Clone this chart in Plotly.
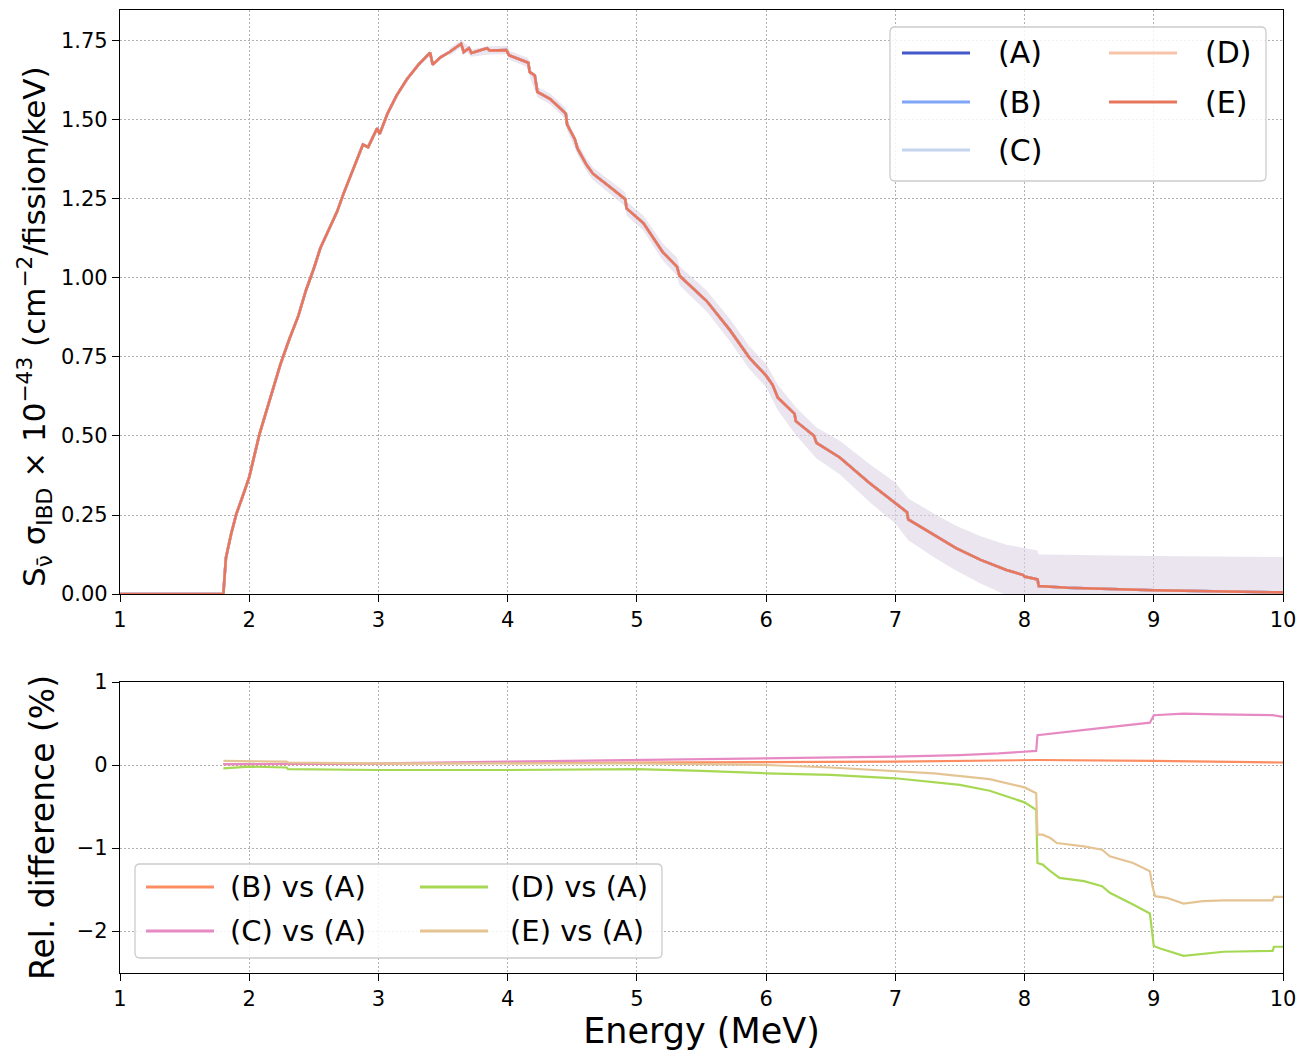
import plotly.graph_objects as go
from plotly.subplots import make_subplots

# ---- data ----
energy = [1.0, 1.80, 1.81, 1.82, 1.86, 1.90, 1.95, 2.00, 2.08, 2.16, 2.24, 2.31, 2.38, 2.44,
          2.50, 2.55, 2.62, 2.68, 2.73, 2.80, 2.88, 2.92, 2.99, 3.01, 3.07, 3.14, 3.22, 3.31,
          3.40, 3.42, 3.48, 3.55, 3.64, 3.66, 3.70, 3.72, 3.78, 3.84, 3.86, 3.99, 4.01, 4.16,
          4.17, 4.21, 4.23, 4.33, 4.45, 4.46, 4.52, 4.54, 4.61, 4.66, 4.77, 4.91, 4.92, 5.05,
          5.20, 5.31, 5.33, 5.54, 5.72, 5.87, 6.00, 6.05, 6.09, 6.22, 6.23, 6.37, 6.39, 6.57,
          6.80, 7.00, 7.09, 7.10, 7.18, 7.32, 7.47, 7.66, 7.86, 7.99, 8.00, 8.10, 8.11, 8.33,
          8.80, 9.00, 10.0]
spectrum = [0, 0, 0.06, 0.115, 0.19, 0.253, 0.31, 0.37, 0.507, 0.62, 0.725, 0.806, 0.88, 0.962,
            1.03, 1.094, 1.157, 1.21, 1.267, 1.34, 1.422, 1.414, 1.474, 1.456, 1.52, 1.577, 1.629,
            1.675, 1.713, 1.675, 1.698, 1.715, 1.741, 1.715, 1.727, 1.712, 1.72, 1.727, 1.72,
            1.721, 1.705, 1.681, 1.652, 1.641, 1.589, 1.566, 1.52, 1.485, 1.439, 1.41, 1.358,
            1.33, 1.295, 1.249, 1.22, 1.174, 1.082, 1.036, 1.007, 0.927, 0.835, 0.748, 0.691,
            0.662, 0.622, 0.57, 0.547, 0.501, 0.478, 0.432, 0.351, 0.288, 0.259, 0.236, 0.216,
            0.18, 0.145, 0.108, 0.076, 0.06, 0.055, 0.046, 0.025, 0.02, 0.015, 0.012, 0.005]

# uncertainty band of model (C)
band_energy = [3.55, 3.64, 3.72, 3.86, 4.0, 4.01, 4.16, 4.17, 4.23, 4.33, 4.45, 4.46, 4.54, 4.61,
               4.66, 4.77, 4.91, 4.92, 5.05, 5.20, 5.31, 5.33, 5.54, 5.72, 5.87, 6.00, 6.09,
               6.23, 6.39, 6.57, 6.80, 7.00, 7.10, 7.18, 7.32, 7.47, 7.66, 7.86, 8.0, 8.10,
               8.11, 9.0, 10.0]
band_hi = [1.727, 1.753, 1.724, 1.733, 1.734, 1.719, 1.696, 1.667, 1.605, 1.583, 1.538, 1.503,
           1.429, 1.378, 1.35, 1.316, 1.271, 1.242, 1.198, 1.109, 1.065, 1.037, 0.96, 0.87,
           0.784, 0.728, 0.662, 0.591, 0.527, 0.485, 0.411, 0.353, 0.302, 0.283, 0.249, 0.216,
           0.183, 0.156, 0.145, 0.138, 0.125, 0.12, 0.117]
band_lo = [1.703, 1.729, 1.700, 1.707, 1.708, 1.691, 1.666, 1.637, 1.573, 1.549, 1.502, 1.467,
           1.391, 1.338, 1.31, 1.274, 1.227, 1.198, 1.150, 1.055, 1.007, 0.977, 0.894, 0.80,
           0.712, 0.654, 0.582, 0.503, 0.429, 0.379, 0.291, 0.223, 0.170, 0.149, 0.111, 0.074,
           0.033, -0.004, -0.035, -0.046, -0.075, -0.096, -0.107]

model_names = ["(A)", "(B)", "(C)", "(D)", "(E)"]
model_colors = ["#4358cb", "#7ea6f8", "#c5d5f0", "#f6c4a9", "#e8765e"]

diff_b_x = [1.8, 3.0, 5.0, 7.0, 8.0, 8.1, 9.0, 10.0]
diff_b = [0.01, 0.02, 0.03, 0.04, 0.05, 0.06, 0.05, 0.03]
diff_c_x = [1.8, 3.0, 4.0, 5.0, 6.0, 7.0, 7.5, 7.8, 8.09, 8.1, 8.5, 8.97, 9.0, 9.23, 9.5, 9.92, 10.0]
diff_c = [0.01, 0.02, 0.04, 0.06, 0.08, 0.10, 0.12, 0.14, 0.17, 0.36, 0.43, 0.51, 0.60, 0.62,
          0.61, 0.60, 0.58]
diff_d_x = [1.8, 2.0, 2.29, 2.3, 3.0, 4.0, 5.0, 5.5, 6.0, 6.5, 7.0, 7.5, 7.73, 8.0, 8.09, 8.1,
            8.14, 8.2, 8.27, 8.46, 8.6, 8.66, 8.84, 8.97, 9.0, 9.05, 9.23, 9.38, 9.54, 9.92,
            9.93, 10.0]
diff_d = [-0.04, -0.02, -0.03, -0.05, -0.06, -0.06, -0.05, -0.07, -0.10, -0.12, -0.16, -0.24,
          -0.31, -0.45, -0.54, -1.18, -1.20, -1.28, -1.36, -1.40, -1.46, -1.54, -1.68, -1.79,
          -2.18, -2.21, -2.30, -2.28, -2.25, -2.24, -2.19, -2.19]
diff_e_x = [1.8, 2.29, 2.3, 3.0, 4.0, 5.0, 5.5, 6.0, 6.5, 7.0, 7.3, 7.73, 8.0, 8.09, 8.1, 8.14,
            8.2, 8.25, 8.46, 8.6, 8.66, 8.84, 8.97, 8.99, 9.01, 9.1, 9.23, 9.38, 9.54, 9.92,
            9.93, 10.0]
diff_e = [0.05, 0.04, 0.03, 0.02, 0.02, 0.02, 0.01, 0.0, -0.03, -0.07, -0.10, -0.17, -0.27,
          -0.34, -0.84, -0.84, -0.88, -0.94, -0.98, -1.02, -1.10, -1.18, -1.28, -1.46, -1.58,
          -1.60, -1.67, -1.64, -1.63, -1.63, -1.59, -1.59]

diff_names = ["(B) vs (A)", "(C) vs (A)", "(D) vs (A)", "(E) vs (A)"]
diff_colors = ["#fc8d62", "#e78ac3", "#a6d854", "#e5c494"]
diff_series = [(diff_b_x, diff_b), (diff_c_x, diff_c), (diff_d_x, diff_d), (diff_e_x, diff_e)]

# ---- geometry: page has an 8px body margin, so size the figure to fit the window ----
OFF = 8
W, H = 1311 - OFF, 1053 - OFF
LEFT, RIGHT, TOP, BOTTOM = 120, 1283, 10, 973   # plot area in window pixels
PW, PH = RIGHT - LEFT, BOTTOM - TOP


def px(x):
    return (x - LEFT) / PW


def py(y):
    return (BOTTOM - y) / PH


FONT = "DejaVu Sans, Liberation Sans, sans-serif"

fig = make_subplots(rows=2, cols=1)

fig.add_trace(go.Scatter(x=band_energy, y=band_lo, mode="lines", line=dict(width=0),
                         showlegend=False, hoverinfo="skip"), row=1, col=1)
fig.add_trace(go.Scatter(x=band_energy, y=band_hi, mode="lines", line=dict(width=0),
                         fill="tonexty", fillcolor="rgba(220,212,228,0.6)",
                         showlegend=False, hoverinfo="skip"), row=1, col=1)

for name, color in zip(model_names, model_colors):
    fig.add_trace(go.Scatter(x=energy, y=spectrum, mode="lines", name=name,
                             line=dict(color=color, width=2.6), showlegend=False),
                  row=1, col=1)

for name, color, (xs, ys) in zip(diff_names, diff_colors, diff_series):
    fig.add_trace(go.Scatter(x=xs, y=ys, mode="lines", name=name,
                             line=dict(color=color, width=2.2), showlegend=False),
                  row=2, col=1)

axis_common = dict(
    showline=True, linecolor="black", linewidth=1.3, mirror=True,
    ticks="outside", ticklen=7, tickwidth=1.2, tickcolor="black",
    showgrid=True, gridcolor="#b0b0b0", griddash="1.5px,2.5px", gridwidth=1,
    zeroline=False, automargin=False,
    tickfont=dict(family=FONT, size=21, color="black"),
)

fig.update_xaxes(axis_common)
fig.update_yaxes(axis_common)

fig.update_layout(
    xaxis=dict(range=[1, 10], dtick=1, domain=[0, 1], anchor="y"),
    yaxis=dict(range=[0, 1.848], dtick=0.25, tickformat=".2f",
               domain=[py(594), 1], anchor="x"),
    xaxis2=dict(range=[1, 10], dtick=1, domain=[0, 1], anchor="y2",
                title=dict(text="Energy (MeV)", font=dict(family=FONT, size=35, color="black"),
                           standoff=6)),
    yaxis2=dict(range=[-2.506, 1], tickvals=[-2, -1, 0, 1], domain=[0, py(682)], anchor="x2",
                title=dict(text="Rel. difference (%)", font=dict(family=FONT, size=33, color="black"),
                           standoff=12)),
    width=W, height=H,
    margin=dict(l=LEFT - OFF, r=1311 - RIGHT, t=TOP - OFF, b=1053 - BOTTOM),
    plot_bgcolor="white", paper_bgcolor="white",
    template="none",
    showlegend=False,
)

# top y-axis label, placed like the matplotlib one
fig.add_annotation(
    x=px(35), y=py(327), xref="paper", yref="paper", showarrow=False,
    textangle=-90, xanchor="center", yanchor="middle",
    text="S<sub>ν̄</sub> σ<sub>IBD</sub> × 10<sup>−43</sup> (cm<sup>−2</sup>/fission/keV)",
    font=dict(family=FONT, size=31, color="black"),
)


# ---- legends drawn in matplotlib style ----
def rounded_box(x0, y0, x1, y1, r=5):
    rx, ry = r / PW, r / PH
    a0, a1 = px(x0), px(x1)
    b0, b1 = py(y1), py(y0)
    path = (f"M {a0 + rx},{b0} L {a1 - rx},{b0} Q {a1},{b0} {a1},{b0 + ry} "
            f"L {a1},{b1 - ry} Q {a1},{b1} {a1 - rx},{b1} L {a0 + rx},{b1} "
            f"Q {a0},{b1} {a0},{b1 - ry} L {a0},{b0 + ry} Q {a0},{b0} {a0 + rx},{b0} Z")
    fig.add_shape(type="path", path=path, xref="paper", yref="paper",
                  fillcolor="rgba(255,255,255,0.85)", line=dict(color="#cccccc", width=1.3))


def legend_entry(x_line, x_text, y, label, color, size):
    fig.add_shape(type="line", xref="paper", yref="paper",
                  x0=px(x_line), x1=px(x_line + 68), y0=py(y), y1=py(y),
                  line=dict(color=color, width=2.8))
    fig.add_annotation(x=px(x_text), y=py(y), xref="paper", yref="paper", text=label,
                       showarrow=False, xanchor="left", yanchor="middle",
                       font=dict(family=FONT, size=size, color="black"))


rounded_box(890, 27, 1266, 181)
top_slots = [(902, 996, 53), (902, 996, 102), (902, 996, 150), (1109, 1203, 53), (1109, 1203, 102)]
for (xl, xt, yy), name, color in zip(top_slots, model_names, model_colors):
    legend_entry(xl, xt, yy, name, color, 30)

rounded_box(135, 864, 662, 958)
bot_slots = [(146, 228, 887), (146, 228, 931), (420, 508, 887), (420, 508, 931)]
for (xl, xt, yy), name, color in zip(bot_slots, diff_names, diff_colors):
    legend_entry(xl, xt, yy, name, color, 29)

fig.write_html("out.html")
